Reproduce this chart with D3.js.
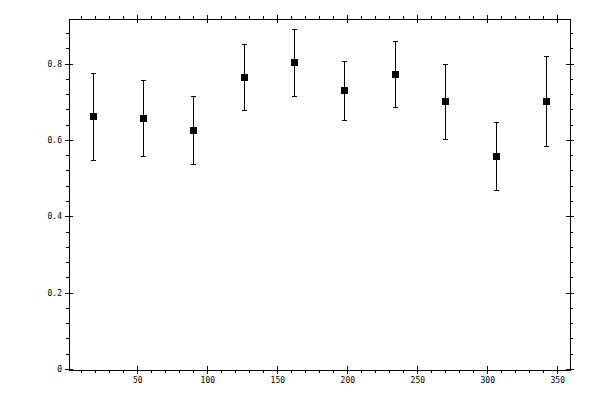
<!DOCTYPE html>
<html>
<head>
<meta charset="utf-8">
<script src="https://cdn.jsdelivr.net/npm/d3@7"></script>
<style>
  html, body { margin: 0; padding: 0; background: #fff; }
  svg { display: block; }
  .axis text { font-family: "DejaVu Sans Mono", monospace; font-size: 8px; fill: #000; }
  .axis path, .axis line { stroke: #000; shape-rendering: crispEdges; }
</style>
</head>
<body>
<div id="app"></div>
<script>
const angles = [18, 54, 90, 126, 162, 198, 234, 270, 306, 342]
const means = [0.662, 0.657, 0.626, 0.765, 0.804, 0.731, 0.773, 0.702, 0.558, 0.702]
const upper = [0.776, 0.757, 0.715, 0.851, 0.892, 0.806, 0.859, 0.799, 0.646, 0.819]
const lower = [0.547, 0.558, 0.537, 0.678, 0.715, 0.652, 0.686, 0.602, 0.468, 0.585]

const xMajor = [50, 100, 150, 200, 250, 300, 350]
const xMinor = d3.range(10, 360, 10)
const yMajor = [0, 0.2, 0.4, 0.6, 0.8]
const yMinor = d3.range(0, 0.9, 0.04)

const width = 600
const height = 400
const frame = {left: 69, top: 19, right: 570, bottom: 370}

const x = d3.scaleLinear().domain([1.2, 359.1]).range([frame.left, frame.right])
const y = d3.scaleLinear().domain([-0.003, 0.917]).range([frame.bottom, frame.top])

const svg = d3.select('#app').append('svg')
  .attr('width', width)
  .attr('height', height)

const yFmt = (d) => (d === 0 ? '0' : d3.format('.1f')(d))

// major ticks cross the frame line, minor ticks only point outward
const addAxis = (axisFn, scale, ticks, size, labels, transform, inward) => {
  const g = svg.append('g')
    .attr('class', 'axis')
    .attr('transform', transform)
    .call(axisFn(scale).tickValues(ticks).tickSize(size).tickPadding(3)
      .tickSizeOuter(0).tickFormat(labels || (() => '')))
  g.select('.domain').remove()
  if (inward) {
    g.selectAll('.tick line').each(function () {
      const l = d3.select(this)
      if (l.attr('x2') != null) l.attr('x1', -(+l.attr('x2')))
      if (l.attr('y2') != null) l.attr('y1', -(+l.attr('y2')))
    })
  }
  return g
}

addAxis(d3.axisBottom, x, xMinor, 3, null, `translate(0,${frame.bottom})`)
addAxis(d3.axisBottom, x, xMajor, 4, d3.format('d'), `translate(0,${frame.bottom})`, true)
addAxis(d3.axisTop, x, xMinor, 3, null, `translate(0,${frame.top})`)
addAxis(d3.axisTop, x, xMajor, 4, null, `translate(0,${frame.top})`, true)
addAxis(d3.axisLeft, y, yMinor, 3, null, `translate(${frame.left},0)`)
addAxis(d3.axisLeft, y, yMajor, 4, yFmt, `translate(${frame.left},0)`, true)
addAxis(d3.axisRight, y, yMinor, 3, null, `translate(${frame.right},0)`)
addAxis(d3.axisRight, y, yMajor, 4, null, `translate(${frame.right},0)`, true)

svg.append('rect')
  .attr('x', frame.left + 0.5)
  .attr('y', frame.top + 0.5)
  .attr('width', frame.right - frame.left)
  .attr('height', frame.bottom - frame.top)
  .attr('fill', 'none')
  .attr('stroke', '#000')
  .attr('shape-rendering', 'crispEdges')

const pts = angles.map((a, i) => ({a, m: means[i], hi: upper[i], lo: lower[i]}))
const cap = 2.5
const box = 7

const bars = svg.append('g')
  .attr('stroke', '#000')
  .attr('shape-rendering', 'crispEdges')

bars.selectAll('line.err')
  .data(pts)
  .join('line')
  .attr('class', 'err')
  .attr('x1', (d) => Math.round(x(d.a)) + 0.5)
  .attr('x2', (d) => Math.round(x(d.a)) + 0.5)
  .attr('y1', (d) => y(d.hi))
  .attr('y2', (d) => y(d.lo))

bars.selectAll('line.capHi')
  .data(pts)
  .join('line')
  .attr('class', 'capHi')
  .attr('x1', (d) => Math.round(x(d.a)) - cap + 0.5)
  .attr('x2', (d) => Math.round(x(d.a)) + cap + 0.5)
  .attr('y1', (d) => Math.round(y(d.hi)) + 0.5)
  .attr('y2', (d) => Math.round(y(d.hi)) + 0.5)

bars.selectAll('line.capLo')
  .data(pts)
  .join('line')
  .attr('class', 'capLo')
  .attr('x1', (d) => Math.round(x(d.a)) - cap + 0.5)
  .attr('x2', (d) => Math.round(x(d.a)) + cap + 0.5)
  .attr('y1', (d) => Math.round(y(d.lo)) + 0.5)
  .attr('y2', (d) => Math.round(y(d.lo)) + 0.5)

svg.append('g')
  .selectAll('rect')
  .data(pts)
  .join('rect')
  .attr('x', (d) => Math.round(x(d.a)) - 3)
  .attr('y', (d) => Math.round(y(d.m)) - 3)
  .attr('width', box)
  .attr('height', box)
  .attr('fill', '#000')
  .attr('shape-rendering', 'crispEdges')
</script>
</body>
</html>
